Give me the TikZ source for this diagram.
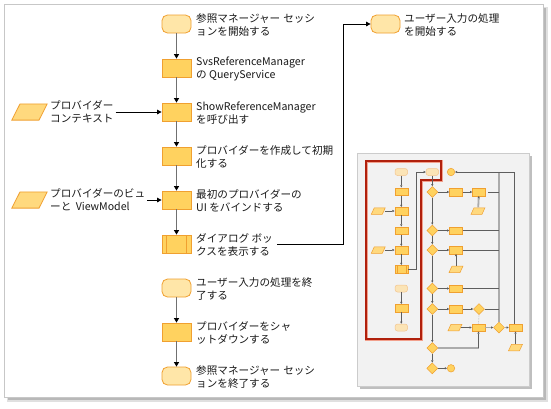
\documentclass[tikz,border=0pt]{standalone}
\usepackage{fontspec}
\setmainfont{Noto Sans CJK JP}
\usetikzlibrary{arrows.meta,shapes.geometric,calc}

\definecolor{procfill}{HTML}{FFD25F}
\definecolor{procline}{HTML}{F0A030}
\definecolor{termfill}{HTML}{FFE6A8}
\definecolor{datafill}{HTML}{FFD97E}
\definecolor{palefill}{HTML}{FBE4B6}
\definecolor{paleline}{HTML}{F3C48E}
\definecolor{flowgray}{HTML}{707070}
\definecolor{thingray}{HTML}{5E5E5E}
\definecolor{thickgray}{HTML}{ABABAB}
\definecolor{framered}{HTML}{B0200C}
\definecolor{frameglow}{HTML}{F2A08C}
\definecolor{panelfill}{HTML}{F2F2F2}

\tikzset{
  % main flow shapes
  shapebase/.style={inner sep=0pt, line width=0.8pt, draw=procline},
  term/.style={shapebase, rectangle, rounded corners=5.5pt, fill=termfill,
    minimum width=29pt, minimum height=18pt},
  proc/.style={shapebase, rectangle, fill=procfill,
    minimum width=29pt, minimum height=18pt},
  predproc/.style={proc, path picture={
    \draw[procline, line width=0.8pt]
      ([xshift=4.5pt]path picture bounding box.north west) --
      ([xshift=4.5pt]path picture bounding box.south west)
      ([xshift=-4.5pt]path picture bounding box.north east) --
      ([xshift=-4.5pt]path picture bounding box.south east);}},
  % slanted data box: #1 = slant, #2 = outline width
  para/.style 2 args={rectangle, inner sep=0pt, path picture={
    \filldraw[fill=datafill, draw=procline, line width=#2, line join=miter]
      ([xshift=#2, yshift=#2/2]path picture bounding box.south west) --
      ([xshift=-#1, yshift=#2/2]path picture bounding box.south east) --
      ([xshift=-#2, yshift=-#2/2]path picture bounding box.north east) --
      ([xshift=#1, yshift=-#2/2]path picture bounding box.north west) -- cycle;}},
  dataio/.style={para={9pt}{0.8pt}, minimum width=37pt, minimum height=17pt},
  lbl/.style={anchor=west, align=left, inner sep=0pt, text=black!90,
    font=\fontsize{10.6}{13}\selectfont},
  flow/.style={draw=flowgray, line width=1.8pt,
    -{Triangle[length=4.5pt,width=5pt,color=black]}},
  feed/.style={draw=black, line width=0.9pt,
    -{Triangle[length=4.5pt,width=4.5pt]}},
  % miniature overview shapes
  tbase/.style={inner sep=0pt, line width=0.5pt, draw=procline},
  tproc/.style={tbase, rectangle, fill=procfill,
    minimum width=13pt, minimum height=7.5pt},
  tterm/.style={tbase, rectangle, rounded corners=2.5pt, fill=palefill,
    draw=paleline, minimum width=12.5pt, minimum height=7pt},
  tpred/.style={tproc, path picture={
    \draw[procline, line width=0.5pt]
      ([xshift=2pt]path picture bounding box.north west) --
      ([xshift=2pt]path picture bounding box.south west)
      ([xshift=-2pt]path picture bounding box.north east) --
      ([xshift=-2pt]path picture bounding box.south east);}},
  tdia/.style={tbase, diamond, fill=procfill, minimum width=11pt,
    minimum height=11pt},
  tcirc/.style={tbase, circle, fill=procfill, minimum size=7.5pt},
  tdata/.style={para={3.5pt}{0.5pt}, minimum width=15pt, minimum height=7pt},
  tarr/.style={draw=thingray, line width=0.6pt,
    -{Triangle[length=2.2pt,width=2.2pt]}},
  tline/.style={draw=thingray, line width=0.6pt},
  tthick/.style={draw=thickgray, line width=1.8pt},
}

\begin{document}
\begin{tikzpicture}[x=1pt, y=-1pt]
\useasboundingbox (0,0) rectangle (551,408);

% outer frame with drop shadow
\fill[black!12] (7,7) rectangle (548,402);
\fill[black!28] (8,8) rectangle (546,400);
\filldraw[fill=white, draw=black!22, line width=0.6pt] (4,4) rectangle (543,397);

% ---------------- main flow ----------------
\node[term]     (s1) at (176.5,24)  {};
\node[proc]     (s2) at (176.5,68)  {};
\node[proc]     (s3) at (176.5,112) {};
\node[proc]     (s4) at (176.5,156) {};
\node[proc]     (s5) at (176.5,200) {};
\node[predproc] (s6) at (176.5,244) {};
\node[term]     (s7) at (176.5,288) {};
\node[proc]     (s8) at (176.5,332) {};
\node[term]     (s9) at (176.5,376) {};
\node[term]     (u1) at (385.5,24)  {};

\node[dataio] (in1) at (29.5,112) {};
\node[dataio] (in2) at (29.5,200) {};

\node[lbl] (l1) at (196,25)  {参照マネージャー\hspace{3pt}セッシ\\ョンを開始する};
\node[lbl] (l2) at (196,69)  {SvsReferenceManager\\の QueryService};
\node[lbl] (l3) at (196,113) {ShowReferenceManager\\を呼び出す};
\node[lbl] (l4) at (196,157) {プロバイダーを作成して初期\\化する};
\node[lbl] (l5) at (196,201) {最初のプロバイダーの\\UI をバインドする};
\node[lbl] (l6) at (196,245) {ダイアログ ボッ\\クスを表示する};
\node[lbl] (l7) at (196,289) {ユーザー入力の処理を終\\了する};
\node[lbl] (l8) at (196,333) {プロバイダーをシャ\\ットダウンする};
\node[lbl] (l9) at (196,377) {参照マネージャー\hspace{3pt}セッシ\\ョンを終了する};
\node[lbl] (lu) at (404,25)  {ユーザー入力の処理\\を開始する};
\node[lbl] (li1) at (50,112) {プロバイダー\\コンテキスト};
\node[lbl] (li2) at (50,200) {プロバイダーのビュ\\ーと\hspace{2pt} ViewModel};

\draw[flow] (s1) -- (s2);
\draw[flow] (s2) -- (s3);
\draw[flow] (s3) -- (s4);
\draw[flow] (s4) -- (s5);
\draw[flow] (s5) -- (s6);
\draw[flow] (s7) -- (s8);
\draw[flow] (s8) -- (s9);

\draw[feed, shorten <=2pt] (li1.east) -- (s3.west);
\draw[feed, shorten <=2pt] (li2.east) -- (s5.west);

\coordinate (dlg) at (277,244);
\draw[feed] (dlg) -- (343,244) |- (u1.west);

% ---------------- overview panel ----------------
\fill[black!25] (360,156) rectangle (532,389);
\filldraw[fill=panelfill, draw=black!20, line width=0.5pt] (357,153) rectangle (529.5,386.5);

% highlighted region
\draw[frameglow, line width=3pt, line join=miter]
  (366,161) -- (441,161) -- (441,180) -- (421,180) -- (421,339) -- (366,339) -- cycle;
\draw[framered, line width=1.6pt, line join=miter]
  (366,161) -- (441,161) -- (441,180) -- (421,180) -- (421,339) -- (366,339) -- cycle;

% left column
\node[tterm] (L1) at (401.3,172)   {};
\node[tproc] (L2) at (401.3,191.5) {};
\node[tproc] (L3) at (401.3,211)   {};
\node[tproc] (L4) at (401.3,230.5) {};
\node[tproc] (L5) at (401.3,250)   {};
\node[tpred] (L6) at (401.3,269)   {};
\node[tterm] (L7) at (401.3,288.5) {};
\node[tproc] (L8) at (401.3,308)   {};
\node[tterm] (L9) at (401.3,327.5) {};
\node[tdata] (LD1) at (378.3,211)  {};
\node[tdata] (LD2) at (378.3,250)  {};

\draw[tarr] (L1) -- (L2);
\draw[tarr] (L2) -- (L3);
\draw[tarr] (L3) -- (L4);
\draw[tarr] (L4) -- (L5);
\draw[tarr] (L5) -- (L6);
\draw[tarr] (L7) -- (L8);
\draw[tarr] (L8) -- (L9);
\draw[tarr, shorten <=-1.5pt] (LD1) -- (L3);
\draw[tarr, shorten <=-1.5pt] (LD2) -- (L5);

% right part
\node[tterm] (R0) at (432.3,172) {};
\node[tcirc] (C1) at (451,172)   {};
\node[tdia]  (D1) at (432.3,192) {};
\node[tdia]  (D2) at (432.3,230.5) {};
\node[tdia]  (D3) at (432.3,250) {};
\node[tdia]  (D4) at (432.3,288.5) {};
\node[tdia]  (D5) at (432.3,309) {};
\node[tdia]  (D6) at (432.3,348) {};
\node[tdia]  (D7) at (432.3,368.3) {};
\node[tcirc] (C2) at (451,368.3) {};

\node[tproc] (P1)  at (456,192)   {};
\node[tproc] (P1b) at (479,192)   {};
\node[tdata] (PD1) at (478,211)   {};
\node[tproc] (P2)  at (456,230.5) {};
\node[tproc] (P3)  at (456,250)   {};
\node[tdata] (PD3) at (456,269.3) {};
\node[tproc] (P4)  at (456,288.5) {};
\node[tproc] (P5)  at (456,309)   {};
\node[tdia]  (DD5) at (479,309)   {};
\node[tdata] (PD6) at (455,327.5) {};
\node[tproc] (P6)  at (478.5,327.5) {};
\node[tdia]  (D6b) at (499,327.5) {};
\node[tproc] (P7)  at (515.5,327.5) {};
\node[tdata] (PD7) at (515.5,347.5) {};

\coordinate (bartop) at (499,172);

\draw[tarr] (L6.east) -- (416,269) |- (R0.west);
\draw[tarr] (R0) -- (D1);
\draw[tarr] (D1) -- (D2);
\draw[tarr] (D2) -- (D3);
\draw[tarr] (D3) -- (D4);
\draw[tarr] (D4) -- (D5);
\draw[tarr] (D5) -- (D6);
\draw[tarr] (D6) -- (D7);
\draw[tarr] (D7) -- (C2);

\draw[tthick] (bartop) -- (D6b.north);

\draw[tarr] (D1) -- (P1);
\draw[tarr] (P1) -- (P1b);
\draw[tline] ([xshift=2.5pt]P1b.east) -- (P1b.east -| bartop);
\draw[tthick, -{Triangle[length=2.2pt,width=2.2pt,color=thingray]}] (PD1) -- (P1b);

\draw[tarr] (D2) -- (P2);
\draw[tline] (P2.east) -- (P2.east -| bartop);

\draw[tarr] (D3) -- (P3);
\draw[tline] (P3.east) -- (P3.east -| bartop);
\draw[tarr] (PD3) -- (P3);

\draw[tarr] (D4) -- (P4);
\draw[tline] (P4.east) -- (P4.east -| bartop);

\draw[tarr] (D5) -- (P5);
\draw[tarr] (P5) -- (DD5);
\draw[tline] (DD5.east) -- (DD5.east -| bartop);
\draw[draw=black!30, line width=0.6pt, densely dotted] (DD5.south) -- (P6.north);

\draw[tarr, shorten <=-1.5pt] (PD6) -- (P6);
\draw[tthick, -{Triangle[length=2.2pt,width=2.2pt,color=thingray]}] (P6) -- (D6b);
\draw[tthick, -{Triangle[length=2.2pt,width=2.2pt,color=thingray]}] (D6b) -- (P7);
\draw[tarr] (PD7) -- (P7);
\draw[tarr] ([xshift=-1.5pt]P7.north) |- (C1.east);

\draw[tthick] (D6.east) -- (D6.east -| P6.south);
\draw[tarr] (D6.east -| P6.south) -- (P6.south);

\end{tikzpicture}
\end{document}
